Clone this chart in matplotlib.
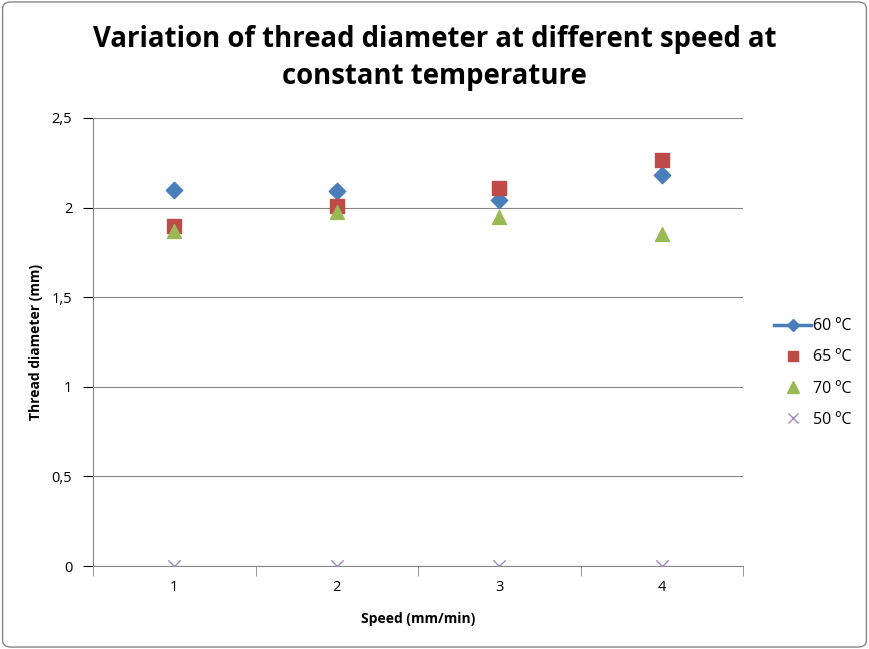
import matplotlib.pyplot as plt
from matplotlib.lines import Line2D
from matplotlib.patches import FancyBboxPatch

plt.rcParams['font.family'] = ['Open Sans', 'DejaVu Sans']

speeds = [1, 2, 3, 4]
d60 = [2.10, 2.09, 2.04, 2.18]
d65 = [1.90, 2.01, 2.11, 2.265]
d70 = [1.87, 1.975, 1.95, 1.85]
d50 = [0, 0, 0, 0]
y_ticks = [0, 0.5, 1, 1.5, 2, 2.5]
y_labels = ['0', '0,5', '1', '1,5', '2', '2,5']

fig = plt.figure(figsize=(8.69, 6.49), dpi=100)
fig.patches.append(FancyBboxPatch((0.003, 0.003), 0.994, 0.994,
                                  boxstyle='round,pad=0,rounding_size=0.01',
                                  transform=fig.transFigure, fill=False,
                                  edgecolor='#868686', linewidth=1))
ax = fig.add_axes([93 / 869, 1 - 566 / 649, 650 / 869, 448 / 649])

ax.scatter(speeds, d60, marker='D', s=70, color='#4a7ebb', zorder=3)
ax.scatter(speeds, d65, marker='s', s=90, color='#be4b48', zorder=3)
ax.scatter(speeds, d70, marker='^', s=100, color='#98b954', zorder=3)
ax.scatter(speeds, d50, marker='x', s=80, color='#a08cc0', linewidths=1, zorder=3)

ax.set_xlim(0.5, 4.5)
ax.set_ylim(0, 2.5)
ax.set_yticks(y_ticks)
ax.set_yticklabels(y_labels)
ax.set_xticks(speeds)
ax.set_xticks([0.5, 1.5, 2.5, 3.5, 4.5], minor=True)
ax.tick_params(axis='x', which='major', length=0, pad=10)
ax.tick_params(axis='x', which='minor', length=7, color='#868686', direction='out')
ax.tick_params(axis='y', length=7, color='#868686', direction='out', pad=8)
ax.tick_params(labelsize=10.5, colors='#000000')
ax.grid(axis='y', color='#868686', linewidth=0.8)
ax.set_axisbelow(True)
for side in ['top', 'right']:
    ax.spines[side].set_visible(False)
for side in ['left', 'bottom']:
    ax.spines[side].set_color('#868686')

ax.set_xlabel('Speed (mm/min)', fontsize=10, fontweight='bold', labelpad=12)
ax.set_ylabel('Thread diameter (mm)', fontsize=10, fontweight='bold', labelpad=6)

fig.text(0.5, 1 - 58 / 649, 'Variation of thread diameter at different speed at\nconstant temperature',
         ha='center', va='center', fontsize=19.8, fontweight='bold', linespacing=1.35)

handles = [
    Line2D([], [], color='#4a7ebb', marker='D', markersize=6, linewidth=2.5),
    Line2D([], [], color='#be4b48', marker='s', markersize=7, linestyle='none'),
    Line2D([], [], color='#98b954', marker='^', markersize=8, linestyle='none'),
    Line2D([], [], color='#a08cc0', marker='x', markersize=7, markeredgewidth=1, linestyle='none'),
]
fig.legend(handles, ['60 ºC', '65 ºC', '70 ºC', '50 ºC'], loc='center left',
           bbox_to_anchor=(760 / 869, 1 - 373 / 649), frameon=False, fontsize=11.5,
           handlelength=2.3, labelspacing=0.95, handletextpad=0.1)

fig.savefig('out.png', dpi=100)
